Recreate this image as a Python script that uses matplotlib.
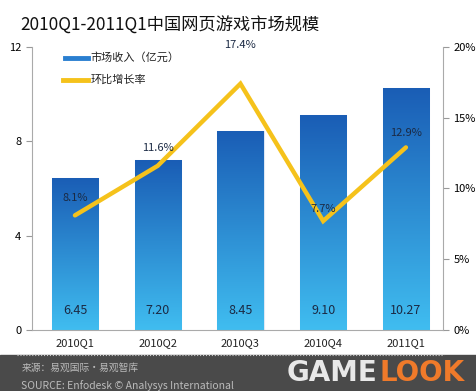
import numpy as np
import matplotlib.pyplot as plt
from matplotlib.colors import LinearSegmentedColormap
from matplotlib.patches import Rectangle

plt.rcParams['font.family'] = ['Noto Sans CJK SC', 'DejaVu Sans']

quarters = ["2010Q1", "2010Q2", "2010Q3", "2010Q4", "2011Q1"]
revenue = [6.45, 7.20, 8.45, 9.10, 10.27]
growth = [8.1, 11.6, 17.4, 7.7, 12.9]
rev_labels = ["6.45", "7.20", "8.45", "9.10", "10.27"]
growth_labels = ["8.1%", "11.6%", "17.4%", "7.7%", "12.9%"]

fig = plt.figure(figsize=(4.77, 3.91), dpi=100)
ax = fig.add_axes([0.067, 0.156, 0.862, 0.724])
x = np.arange(len(quarters))

cmap = LinearSegmentedColormap.from_list("blu", ["#40bdf0", "#1a5db5"])
grad = np.linspace(0, 1, 256).reshape(-1, 1)
bars = ax.bar(x, revenue, width=0.56, color="none", edgecolor="#dde8f4", linewidth=0.8, zorder=2)
for b in bars:
    im = ax.imshow(grad, cmap=cmap, origin="lower", aspect="auto",
                   extent=[b.get_x(), b.get_x() + b.get_width(), 0, b.get_height()], zorder=2)
    im.set_clip_path(b)

ax.set_xlim(-0.52, 4.45)
ax.set_ylim(0, 12)
ax.set_yticks([0, 4, 8, 12])
ax.set_xticks(x)
ax.set_xticklabels(quarters, fontsize=8, color="#222222")
ax.tick_params(axis="y", labelsize=8, length=4, color="#999999", direction="out")
ax.tick_params(axis="x", length=0, pad=6)
for s in ["top", "right"]:
    ax.spines[s].set_visible(False)
for s in ["left", "bottom"]:
    ax.spines[s].set_color("#aaaaaa")

for i, t in enumerate(rev_labels):
    ax.text(x[i], 0.55, t, ha="center", va="bottom", fontsize=9, color="#1b2a44", zorder=5)

ax2 = ax.twinx()
ax2.set_ylim(0, 20)
ax2.set_yticks([0, 5, 10, 15, 20])
ax2.set_yticklabels(["0%", "5%", "10%", "15%", "20%"])
ax2.tick_params(axis="y", labelsize=8, length=4, color="#999999")
for s in ["top", "left", "bottom"]:
    ax2.spines[s].set_visible(False)
ax2.spines["right"].set_color("#aaaaaa")
ax2.plot(x, growth, color="#f5c21b", linewidth=3.2, solid_capstyle="round",
         solid_joinstyle="miter", zorder=4, label="环比增长率")

offsets = [0.9, 0.9, 2.4, 0.5, 0.7]
for i, t in enumerate(growth_labels):
    ax2.text(x[i], growth[i] + offsets[i], t, ha="center", va="bottom", fontsize=8,
             color="#1b2a44", zorder=6)

# legend
fig.add_artist(plt.Line2D([0.136, 0.184], [0.852, 0.852], transform=fig.transFigure,
                          color="#2a7fd0", linewidth=3.5))
fig.text(0.19, 0.852, "市场收入（亿元）", va="center", fontsize=8, color="#222222")
fig.add_artist(plt.Line2D([0.132, 0.184], [0.795, 0.795], transform=fig.transFigure,
                          color="#f5c21b", linewidth=3.5))
fig.text(0.19, 0.797, "环比增长率", va="center", fontsize=8, color="#222222")

fig.text(0.042, 0.935, "2010Q1-2011Q1中国网页游戏市场规模", fontsize=12.4, color="#111111", va="center")

# footer band
fig.patches.append(Rectangle((0, 0), 1, 0.092, transform=fig.transFigure, color="#4a4a4a", zorder=0))
fig.add_artist(plt.Line2D([0.035, 0.93], [0.092, 0.092], transform=fig.transFigure,
                          color="#cccccc", linestyle=":", linewidth=0.8))
fig.text(0.045, 0.06, "来源：易观国际·易观智库", fontsize=7, color="#bbbbbb", va="center")
fig.text(0.045, 0.015, "SOURCE: Enfodesk © Analysys International", fontsize=7.5, color="#bbbbbb", va="center")
fig.text(0.6, 0.045, "GAME", fontsize=20, fontweight="bold", color="#e8e8e8", va="center",
         family="DejaVu Sans")
fig.text(0.795, 0.045, "LOOK", fontsize=20, fontweight="bold", color="#f07a2a", va="center",
         family="DejaVu Sans")

fig.savefig("out.png", dpi=100)
